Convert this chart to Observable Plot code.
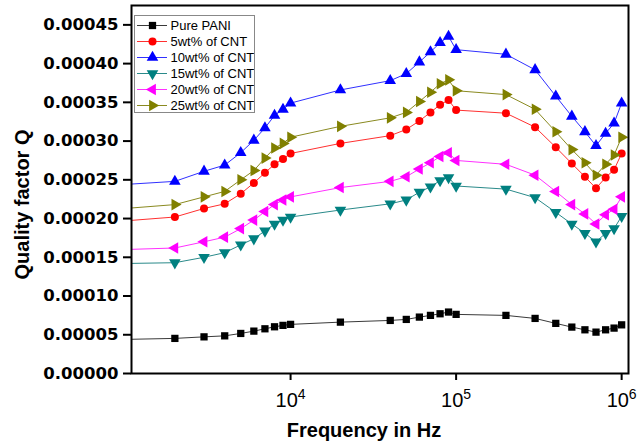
<!DOCTYPE html>
<html><head><meta charset="utf-8">
<script src="https://cdn.jsdelivr.net/npm/d3@7"></script>
<script src="https://cdn.jsdelivr.net/npm/@observablehq/plot@0.6"></script>
<style>
body{margin:0;background:#fff;}
#wrap{position:relative;width:641px;height:445px;}
#legend{position:absolute;left:134px;top:15px;width:119px;height:96px;border:1px solid #888;background:#fff;line-height:0;}
#legend svg{max-width:none !important;display:block;}
#wrap > svg{display:block;}
</style></head><body><div id="wrap"><div id="legend"></div></div>
<script>
const freq = [1000,2000,3000,4000,5000,6000,7000,8000,9000,10000,20000,40000,50000,60000,70000,80000,90000,100000,200000,300000,400000,500000,600000,700000,800000,900000,1000000];
const seriesNames = ["Pure PANI","5wt% of CNT","10wt% of CNT","15wt% of CNT","20wt% of CNT","25wt% of CNT"];
const pani  = [0.0000440,0.0000453,0.0000473,0.0000486,0.0000517,0.0000547,0.0000577,0.0000603,0.0000621,0.0000634,0.0000663,0.0000685,0.0000698,0.0000728,0.0000750,0.0000771,0.0000793,0.0000763,0.0000750,0.0000711,0.0000647,0.0000599,0.0000564,0.0000534,0.0000564,0.0000586,0.0000628];
const cnt5  = [0.000197,0.000202,0.000213,0.000219,0.000232,0.000246,0.000259,0.000270,0.000277,0.000284,0.000297,0.000307,0.000315,0.000326,0.000337,0.000347,0.000353,0.000340,0.000336,0.000318,0.000292,0.000271,0.000254,0.000239,0.000253,0.000263,0.000284];
const cnt10 = [0.000244,0.000248,0.000261,0.000269,0.000285,0.000301,0.000317,0.000333,0.000341,0.000349,0.000366,0.000378,0.000387,0.000402,0.000415,0.000427,0.000435,0.000418,0.000412,0.000392,0.000358,0.000332,0.000312,0.000294,0.000310,0.000323,0.000349];
const cnt15 = [0.000142,0.000143,0.000150,0.000156,0.000166,0.000174,0.000184,0.000193,0.000198,0.000202,0.000211,0.000219,0.000224,0.000234,0.000241,0.000249,0.000253,0.000242,0.000238,0.000227,0.000208,0.000193,0.000181,0.000170,0.000181,0.000187,0.000203];
const cnt20 = [0.000160,0.000162,0.000170,0.000176,0.000187,0.000198,0.000209,0.000218,0.000224,0.000228,0.000240,0.000248,0.000254,0.000264,0.000272,0.000280,0.000285,0.000275,0.000270,0.000256,0.000235,0.000218,0.000206,0.000193,0.000205,0.000212,0.000228];
const cnt25 = [0.000213,0.000218,0.000228,0.000235,0.000250,0.000262,0.000278,0.000291,0.000297,0.000305,0.000319,0.000330,0.000337,0.000351,0.000363,0.000374,0.000379,0.000365,0.000360,0.000341,0.000312,0.000289,0.000272,0.000256,0.000270,0.000282,0.000305];
const yTicks = [0,0.00005,0.0001,0.00015,0.0002,0.00025,0.0003,0.00035,0.0004,0.00045];
const xTicks = [1e4,1e5,1e6];
const xTitle = "Frequency in Hz";
const yTitle = "Quality factor Q";

const colors = ["#000000","#ff0000","#0000ff","#008080","#ff00ff","#808000"];
const lineColors = ["#3a3a3a","#ff3030","#3030ff","#2a8a8a","#ff30ff","#8a8a20"];
function tri(angle){
  return {draw(ctx,size){
    const s=Math.sqrt(size*4/Math.sqrt(3)); const R=s/Math.sqrt(3);
    for(let i=0;i<3;i++){const a=angle+i*2*Math.PI/3; const x=R*Math.cos(a), y=R*Math.sin(a); if(i) ctx.lineTo(x,y); else ctx.moveTo(x,y);}
    ctx.closePath();
  }};
}
const symbols = [d3.symbolSquare, d3.symbolCircle, tri(-Math.PI/2), tri(Math.PI/2), tri(Math.PI), tri(0)];
const radii = [4.1, 4, 4.3, 4.3, 4.3, 4.3];
const allValues = [pani,cnt5,cnt10,cnt15,cnt20,cnt25];

const marks = [];
allValues.forEach((vals,i)=>{
  const data = freq.map((f,j)=>({f, q: vals[j]}));
  marks.push(Plot.line(data,{x:"f",y:"q",stroke:lineColors[i],strokeWidth:1,clip:true}));
  marks.push(Plot.dot(data.filter(d=>d.f>=2000),{x:"f",y:"q",symbol:symbols[i],r:radii[i],fill:colors[i],stroke:"none"}));
});

const chart = Plot.plot({
  width:641,height:445,marginLeft:131,marginRight:13,marginTop:5,marginBottom:72,
  style:{background:"#fff",fontFamily:"'Liberation Sans', Arial, sans-serif",color:"#000"},
  x:{type:"log",domain:[1094,1.1e6]},
  y:{domain:[0,0.000475]},
  marks:[
    ...marks,
    Plot.frame({stroke:"#000",strokeWidth:2}),
    Plot.axisY(yTicks,{anchor:"left",tickSize:8,tickPadding:5,strokeWidth:2,stroke:"#000",fill:"#000",fontSize:16.5,fontWeight:"bold",fontFamily:"'DejaVu Sans'",tickFormat:d=>d.toFixed(5),label:null}),
    Plot.axisX(xTicks,{anchor:"bottom",tickSize:7,tickPadding:12,strokeWidth:2,stroke:"#000",fill:"#000",fontSize:20,tickFormat:d=>"10^"+Math.round(Math.log10(d)),label:null}),
    Plot.text([yTitle],{frameAnchor:"left",textAnchor:"middle",lineAnchor:"middle",rotate:-90,dx:-109,dy:15,fontSize:20,fontWeight:"bold",fill:"#000"}),
    Plot.text([xTitle],{frameAnchor:"bottom",textAnchor:"middle",lineAnchor:"bottom",dx:-16,dy:63,fontSize:20,fontWeight:"bold",fill:"#000"})
  ]
});
d3.select(chart).selectAll("text").filter(function(){return this.textContent.includes("^");}).each(function(){
  const [b,e] = this.textContent.split("^");
  const sel = d3.select(this); sel.text("");
  sel.append("tspan").text(b);
  sel.append("tspan").attr("dy","-8").attr("font-size","14").text(e);
});
document.getElementById("wrap").insertBefore(chart, document.getElementById("legend"));

const legend = Plot.plot({
  width:119,height:96,marginLeft:2,marginRight:87,marginTop:8,marginBottom:6,
  style:{background:"#fff",fontFamily:"'Liberation Sans', Arial, sans-serif",color:"#000",maxWidth:"none"},
  x:{axis:null,domain:[0,1]},
  y:{type:"point",domain:seriesNames,axis:null,padding:0},
  marks: seriesNames.flatMap((n,i)=>[
    Plot.tickY([n],{y:d=>d,stroke:lineColors[i],strokeWidth:1}),
    Plot.dot([n],{y:d=>d,frameAnchor:"middle",symbol:symbols[i],r:radii[i],fill:colors[i],stroke:"none"}),
    Plot.text([n],{y:d=>d,frameAnchor:"right",dx:3,textAnchor:"start",lineAnchor:"middle",fontSize:13,fill:"#000"})
  ])
});
document.getElementById("legend").appendChild(legend);
</script>
</body></html>
